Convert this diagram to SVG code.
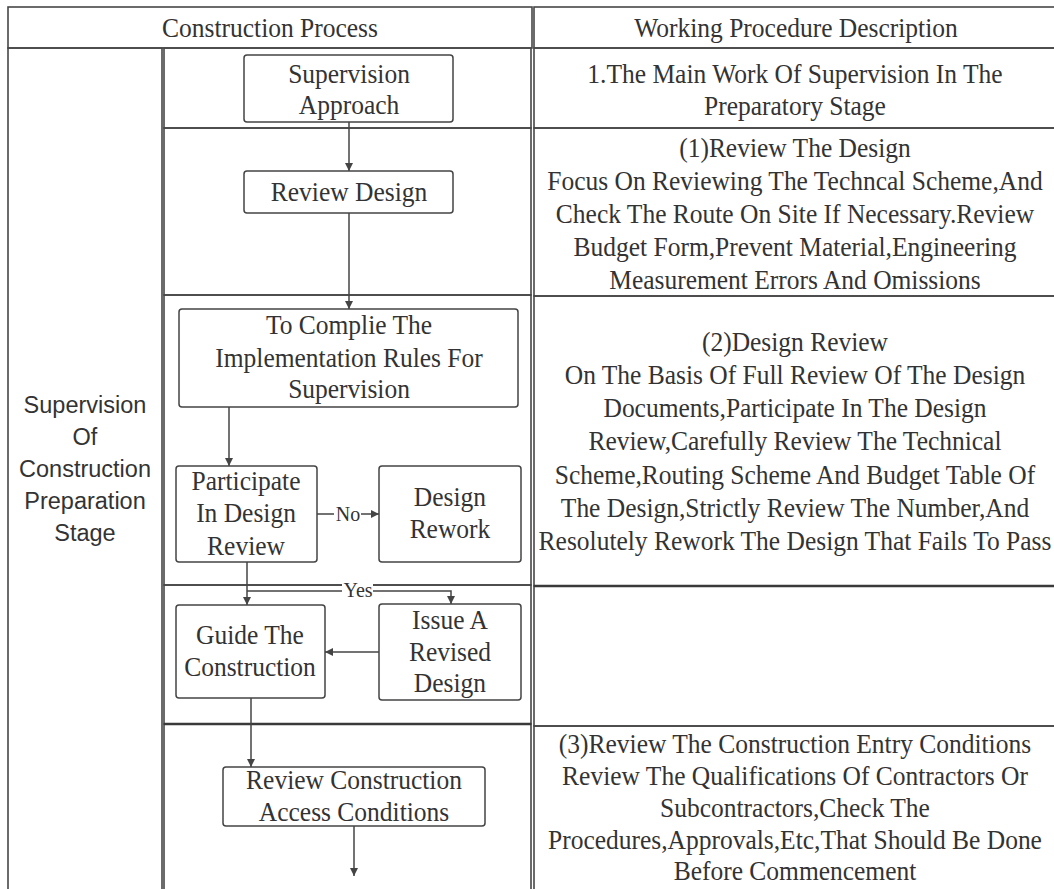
<svg xmlns="http://www.w3.org/2000/svg" width="1054" height="889" viewBox="0 0 1054 889">
<style>
.cell{fill:none;stroke:#474747;stroke-width:1.6}
.thick{fill:none;stroke:#3a3a3a;stroke-width:2.6}
.box{fill:#fff;stroke:#444;stroke-width:1.5}
.t{font-family:"Liberation Serif","Times New Roman",serif;font-size:27.5px;fill:#333;text-anchor:middle}
.s{font-family:"Liberation Sans",Arial,sans-serif;font-size:23.5px;fill:#333;text-anchor:middle}
.lbl{font-family:"Liberation Serif","Times New Roman",serif;font-size:20px;fill:#333;text-anchor:middle}
.c{fill:none;stroke:#444;stroke-width:1.5}
</style>
<defs>
<marker id="ah" viewBox="0 0 10 10" refX="10" refY="5" markerWidth="8" markerHeight="8" markerUnits="userSpaceOnUse" orient="auto">
<path d="M0,0 L10,5 L0,10 z" fill="#444"/>
</marker>
</defs>
<rect width="1054" height="889" fill="#fff"/>
<g id="table">
<rect class="cell" x="8" y="7" width="524" height="41"/>
<rect class="cell" x="534" y="7" width="530" height="41"/>
<rect class="cell" x="8" y="48" width="154" height="850"/>
<rect class="cell" x="164" y="48" width="367" height="80"/>
<rect class="cell" x="164" y="128" width="367" height="167"/>
<rect class="cell" x="164" y="295" width="367" height="290"/>
<rect class="cell" x="164" y="585" width="367" height="139"/>
<rect class="cell" x="164" y="724" width="367" height="174"/>
<rect class="cell" x="534" y="48" width="530" height="80"/>
<rect class="cell" x="534" y="128" width="530" height="168"/>
<rect class="cell" x="534" y="296" width="530" height="290"/>
<rect class="cell" x="534" y="586" width="530" height="140"/>
<rect class="cell" x="534" y="726" width="530" height="172"/>
<line class="thick" x1="164" y1="724" x2="531" y2="724"/>
<line class="thick" x1="534" y1="586" x2="1054" y2="586"/>
<g transform="scale(0.927 1)">
<text class="t" x="291.3" y="37">Construction Process</text>
<text class="t" x="858.7" y="37">Working Procedure Description</text>
</g>
</g>
<g id="stage-label">
<text class="s" x="85" y="413">Supervision</text>
<text class="s" x="85" y="445">Of</text>
<text class="s" x="85" y="477">Construction</text>
<text class="s" x="85" y="509">Preparation</text>
<text class="s" x="85" y="541">Stage</text>
</g>
<g id="desc1" transform="scale(0.927 1)">
<text class="t" x="857.6" y="83">1.The Main Work Of Supervision In The</text>
<text class="t" x="857.6" y="115">Preparatory Stage</text>
</g>
<g id="desc2" transform="scale(0.927 1)">
<text class="t" x="857.6" y="157">(1)Review The Design</text>
<text class="t" x="857.6" y="190">Focus On Reviewing The Techncal Scheme,And</text>
<text class="t" x="857.6" y="223">Check The Route On Site If Necessary.Review</text>
<text class="t" x="857.6" y="256">Budget Form,Prevent Material,Engineering</text>
<text class="t" x="857.6" y="289">Measurement Errors And Omissions</text>
</g>
<g id="desc3" transform="scale(0.927 1)">
<text class="t" x="857.6" y="351">(2)Design Review</text>
<text class="t" x="857.6" y="384">On The Basis Of Full Review Of The Design</text>
<text class="t" x="857.6" y="417">Documents,Participate In The Design</text>
<text class="t" x="857.6" y="450">Review,Carefully Review The Technical</text>
<text class="t" x="857.6" y="484">Scheme,Routing Scheme And Budget Table Of</text>
<text class="t" x="857.6" y="517">The Design,Strictly Review The Number,And</text>
<text class="t" x="857.6" y="550">Resolutely Rework The Design That Fails To Pass</text>
</g>
<g id="desc4" transform="scale(0.927 1)">
<text class="t" x="857.6" y="753">(3)Review The Construction Entry Conditions</text>
<text class="t" x="857.6" y="785">Review The Qualifications Of Contractors Or</text>
<text class="t" x="857.6" y="817">Subcontractors,Check The</text>
<text class="t" x="857.6" y="849">Procedures,Approvals,Etc,That Should Be Done</text>
<text class="t" x="857.6" y="880">Before Commencement</text>
</g>
<g id="connectors">
<path class="c" d="M349,122 V171" marker-end="url(#ah)"/>
<path class="c" d="M349,213 V309" marker-end="url(#ah)"/>
<path class="c" d="M229,407 V466" marker-end="url(#ah)"/>
<path class="c" d="M317,514 H334 M361,514 H379" marker-end="url(#ah)"/>
<path class="c" d="M247,562 V605" marker-end="url(#ah)"/>
<path class="c" d="M247,591 H342 M373,591 H451 V604" marker-end="url(#ah)"/>
<path class="c" d="M379,652 H325" marker-end="url(#ah)"/>
<path class="c" d="M251,698 V767" marker-end="url(#ah)"/>
<path class="c" d="M354,826 V876" marker-end="url(#ah)"/>
<rect x="342" y="583" width="31" height="15" fill="#fff"/>
<text class="lbl" x="348" y="521">No</text>
<text class="lbl" x="358" y="597">Yes</text>
</g>
<g id="n-approach">
<rect class="box" x="244" y="55" width="209" height="67" rx="3"/>
<g transform="scale(0.927 1)">
<text class="t" x="376.5" y="83">Supervision</text>
<text class="t" x="376.5" y="114">Approach</text>
</g>
</g>
<g id="n-review-design">
<rect class="box" x="244" y="171" width="209" height="42" rx="3"/>
<g transform="scale(0.927 1)">
<text class="t" x="376.5" y="201">Review Design</text>
</g>
</g>
<g id="n-compile">
<rect class="box" x="179" y="309" width="339" height="98" rx="3"/>
<g transform="scale(0.927 1)">
<text class="t" x="376.5" y="334">To Complie The</text>
<text class="t" x="376.5" y="367">Implementation Rules For</text>
<text class="t" x="376.5" y="398">Supervision</text>
</g>
</g>
<g id="n-participate">
<rect class="box" x="176" y="466" width="141" height="96" rx="3"/>
<g transform="scale(0.927 1)">
<text class="t" x="265.4" y="490">Participate</text>
<text class="t" x="265.4" y="522">In Design</text>
<text class="t" x="265.4" y="555">Review</text>
</g>
</g>
<g id="n-rework">
<rect class="box" x="379" y="466" width="142" height="96" rx="3"/>
<g transform="scale(0.927 1)">
<text class="t" x="485.4" y="506">Design</text>
<text class="t" x="485.4" y="538">Rework</text>
</g>
</g>
<g id="n-guide">
<rect class="box" x="176" y="605" width="149" height="93" rx="3"/>
<g transform="scale(0.927 1)">
<text class="t" x="269.7" y="644">Guide The</text>
<text class="t" x="269.7" y="676">Construction</text>
</g>
</g>
<g id="n-issue">
<rect class="box" x="379" y="604" width="142" height="96" rx="3"/>
<g transform="scale(0.927 1)">
<text class="t" x="485.4" y="629">Issue A</text>
<text class="t" x="485.4" y="661">Revised</text>
<text class="t" x="485.4" y="692">Design</text>
</g>
</g>
<g id="n-access">
<rect class="box" x="223" y="767" width="262" height="59" rx="3"/>
<g transform="scale(0.927 1)">
<text class="t" x="381.9" y="789">Review Construction</text>
<text class="t" x="381.9" y="821">Access Conditions</text>
</g>
</g>
</svg>
